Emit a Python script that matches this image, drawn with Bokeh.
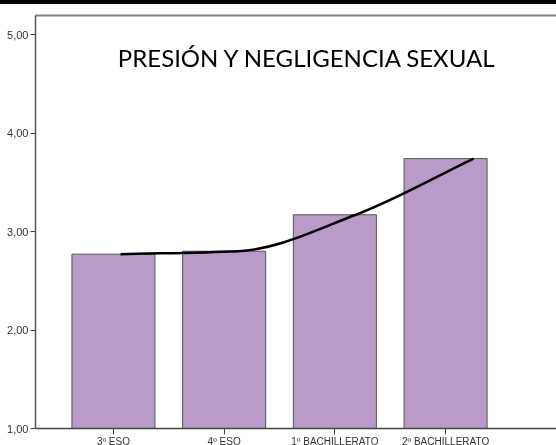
from bokeh.plotting import figure
from bokeh.models import Range1d, LinearAxis, FixedTicker, Label
from bokeh.embed import file_html
from bokeh.resources import INLINE

categories = ["3º ESO", "4º ESO", "1º BACHILLERATO", "2º BACHILLERATO"]
values = [2.77, 2.80, 3.17, 3.74]
y_ticks = [1, 2, 3, 4, 5]
y_tick_labels = ["1,00", "2,00", "3,00", "4,00", "5,00"]
title_text = "PRESIÓN Y NEGLIGENCIA SEXUAL"

bar_x = [i + 0.5 for i in range(len(categories))]
line_x = list(range(len(categories)))

p = figure(width=556, height=445, output_backend="svg", toolbar_location=None,
           x_range=Range1d(-0.204, 4.502), y_range=Range1d(1.0, 5.193),
           min_border_left=35, min_border_right=0, min_border_top=11,
           min_border_bottom=17)
p.styles = {"position": "fixed", "left": "0px", "top": "0px",
            "border-top": "4px solid black"}
p.extra_x_ranges = {"line": Range1d(-0.722, 3.704)}
p.outline_line_color = None
p.grid.visible = False
p.background_fill_color = "white"
p.border_fill_color = "white"

p.vbar(x=bar_x, top=values, bottom=1.0, width=0.75,
       fill_color="#b89bc9", line_color="#555555", line_width=1)

# smooth monotone line through the means (Fritsch-Carlson -> bezier)
n = len(values)
d = [(values[i + 1] - values[i]) / (line_x[i + 1] - line_x[i]) for i in range(n - 1)]
m = [d[0]]
for i in range(1, n - 1):
    if d[i - 1] * d[i] <= 0:
        m.append(0.0)
    else:
        m.append(2.0 / (1.0 / d[i - 1] + 1.0 / d[i]))
m.append(d[-1])
x0s, y0s, x1s, y1s, cx0, cy0, cx1, cy1 = [], [], [], [], [], [], [], []
for i in range(n - 1):
    h = line_x[i + 1] - line_x[i]
    x0s.append(line_x[i]); y0s.append(values[i])
    x1s.append(line_x[i + 1]); y1s.append(values[i + 1])
    cx0.append(line_x[i] + h / 3); cy0.append(values[i] + m[i] * h / 3)
    cx1.append(line_x[i + 1] - h / 3); cy1.append(values[i + 1] - m[i + 1] * h / 3)
p.bezier(x0=x0s, y0=y0s, x1=x1s, y1=y1s, cx0=cx0, cy0=cy0, cx1=cx1, cy1=cy1,
         line_color="black", line_width=2.5, x_range_name="line")

# axes
xa = p.xaxis[0]
xa.ticker = FixedTicker(ticks=bar_x)
xa.major_label_overrides = {x: c for x, c in zip(bar_x, categories)}
xa.minor_tick_line_color = None
xa.major_tick_out = 6
xa.major_tick_in = 0
xa.major_label_standoff = 1
xa.axis_line_color = "#444444"
xa.axis_line_width = 1.5
xa.major_tick_line_color = "#444444"
xa.major_label_text_font = "Liberation Sans"
xa.major_label_text_font_size = "10px"
xa.major_label_text_color = "#333333"

ya = p.yaxis[0]
ya.ticker = FixedTicker(ticks=y_ticks)
ya.major_label_overrides = {t: l for t, l in zip(y_ticks, y_tick_labels)}
ya.minor_tick_line_color = None
ya.major_tick_out = 5
ya.major_tick_in = 0
ya.major_label_standoff = 2
ya.axis_line_color = "#555555"
ya.axis_line_width = 1.5
ya.major_tick_line_color = "#444444"
ya.major_label_text_font = "Liberation Sans"
ya.major_label_text_font_size = "11px"
ya.major_label_text_color = "#333333"

top_axis = LinearAxis(ticker=FixedTicker(ticks=[]), major_tick_out=0, major_tick_in=0,
                      minor_tick_line_color=None, axis_line_color="#808080",
                      axis_line_width=2)
p.add_layout(top_axis, "above")

p.add_layout(Label(x=2.253, y=4.77, text=title_text, text_align="center",
                   text_baseline="middle", text_font="Lato",
                   text_font_size="24px", text_color="black"))

open("out.html", "w").write(file_html(p, INLINE))
